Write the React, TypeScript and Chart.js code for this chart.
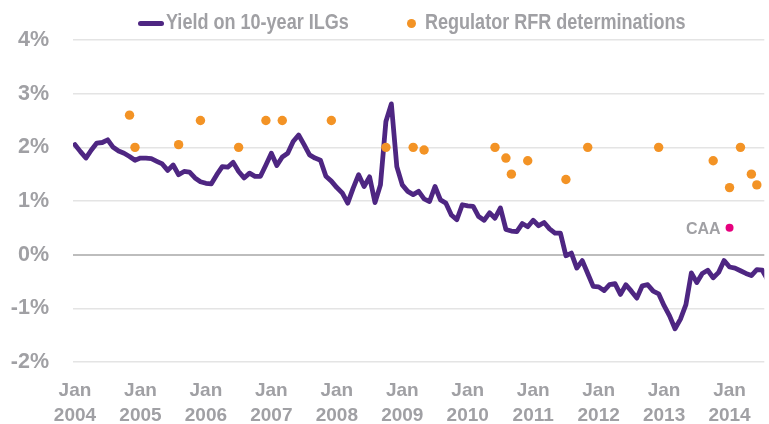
import React, { useEffect, useRef } from "react";
import { Chart, registerables } from "chart.js";

Chart.register(...registerables);

// Monthly yield on 10-year index-linked gilts, % (Jan 2004 onwards)
const ilgYield: number[] = [
  2.05, 1.92, 1.8, 1.95, 2.08, 2.09, 2.14, 2.0, 1.93, 1.89, 1.83, 1.76,
  1.8, 1.8, 1.79, 1.74, 1.69, 1.57, 1.67, 1.49, 1.55, 1.54, 1.43, 1.36,
  1.33, 1.32, 1.49, 1.64, 1.63, 1.72, 1.55, 1.43, 1.52, 1.46, 1.46, 1.67,
  1.89, 1.66, 1.82, 1.89, 2.11, 2.23, 2.05, 1.86, 1.8, 1.76, 1.46, 1.37,
  1.25, 1.15, 0.96, 1.24, 1.49, 1.27, 1.45, 0.97, 1.3, 2.48, 2.81, 1.64,
  1.3, 1.18, 1.12, 1.18, 1.04, 0.99, 1.27, 1.02, 0.96, 0.74, 0.65, 0.93,
  0.91, 0.9, 0.71, 0.64, 0.78, 0.68, 0.87, 0.47, 0.44, 0.43, 0.58, 0.52,
  0.64, 0.54, 0.6, 0.48, 0.4, 0.4, -0.02, 0.03, -0.25, -0.11, -0.35, -0.59,
  -0.6, -0.67, -0.56, -0.54, -0.74, -0.56, -0.68, -0.81, -0.58, -0.56, -0.68, -0.73,
  -0.95, -1.14, -1.38, -1.2, -0.93, -0.34, -0.52, -0.35, -0.29, -0.43, -0.33, -0.11,
  -0.23, -0.25, -0.3, -0.35, -0.39, -0.28, -0.29, -0.47,
];

// Regulator risk-free-rate determinations: months since Jan 2004, value %
const rfrMonth: number[] = [10, 11, 19, 23, 30, 35, 38, 47, 57, 62, 64, 77, 79, 80, 83, 90, 94, 107, 117, 120, 122, 124, 125];
const rfrValue: number[] = [2.6, 2.0, 2.05, 2.5, 2.0, 2.5, 2.5, 2.5, 2.0, 2.0, 1.95, 2.0, 1.8, 1.5, 1.75, 1.4, 2.0, 2.0, 1.75, 1.25, 2.0, 1.5, 1.3];

// CAA determination
const caaMonth: number[] = [120];
const caaValue: number[] = [0.5];
const caaLabel = "CAA";

const startYear = 2004;
const tickYears: number[] = [2004, 2005, 2006, 2007, 2008, 2009, 2010, 2011, 2012, 2013, 2014];
const yTicks: number[] = [-2, -1, 0, 1, 2, 3, 4];

const seriesNames = ["Yield on 10-year ILGs", "Regulator RFR determinations"];

const PURPLE = "#4e2682";
const ORANGE = "#f39325";
const PINK = "#e6007e";
const GREY_TEXT = "#a0a0a4";
const SANS = "'Liberation Sans', Arial, sans-serif";

const caaLabelPlugin = {
  id: "caaLabel",
  afterDatasetsDraw(chart: any) {
    const meta = chart.getDatasetMeta(2);
    if (!meta || !meta.data.length) return;
    const pt = meta.data[0];
    const ctx = chart.ctx;
    ctx.save();
    ctx.font = `bold 16px ${SANS}`;
    ctx.fillStyle = GREY_TEXT;
    ctx.textAlign = "right";
    ctx.textBaseline = "middle";
    ctx.fillText(caaLabel, pt.x - 9, pt.y + 1.5);
    ctx.restore();
  },
};

export default function App() {
  const canvasRef = useRef<HTMLCanvasElement | null>(null);

  useEffect(() => {
    if (!canvasRef.current) return;
    const lineData = ilgYield.map((v, i) => ({ x: i, y: v }));
    const rfrData = rfrMonth.map((m, i) => ({ x: m, y: rfrValue[i] }));
    const caaData = caaMonth.map((m, i) => ({ x: m, y: caaValue[i] }));

    const chart = new Chart(canvasRef.current, {
      type: "scatter",
      data: {
        datasets: [
          {
            type: "line",
            label: seriesNames[0],
            data: lineData,
            borderColor: PURPLE,
            backgroundColor: PURPLE,
            borderWidth: 4.8,
            pointRadius: 0,
            tension: 0,
            borderJoinStyle: "round",
            borderCapStyle: "round",
            order: 3,
          } as any,
          {
            label: seriesNames[1],
            data: rfrData,
            backgroundColor: ORANGE,
            borderWidth: 0,
            pointRadius: 4.7,
            order: 1,
          },
          {
            label: caaLabel,
            data: caaData,
            backgroundColor: PINK,
            borderWidth: 0,
            pointRadius: 4,
            order: 1,
          },
        ],
      },
      options: {
        responsive: false,
        animation: false,
        devicePixelRatio: 1,
        layout: { padding: { top: 40, left: 0, right: 0, bottom: 0 } },
        plugins: {
          legend: { display: false },
          tooltip: { enabled: false },
        },
        scales: {
          x: {
            type: "linear",
            min: -0.364,
            max: 126.37,
            grid: { display: false },
            border: { display: false },
            afterBuildTicks: (axis: any) => {
              axis.ticks = tickYears.map((y) => ({ value: (y - startYear) * 12 }));
            },
            afterFit: (scale: any) => {
              scale.height = 62;
            },
            ticks: {
              autoSkip: false,
              maxRotation: 0,
              padding: 8,
              color: GREY_TEXT,
              font: { family: SANS, size: 19, weight: "bold", lineHeight: "25px" },
              callback: (value: any) => ["Jan", String(startYear + Math.round(Number(value) / 12))],
            },
          },
          y: {
            type: "linear",
            min: -2,
            max: 4,
            afterBuildTicks: (axis: any) => {
              axis.ticks = yTicks.map((v) => ({ value: v }));
            },
            afterFit: (scale: any) => {
              scale.width = 73;
            },
            border: { display: false },
            grid: {
              drawTicks: false,
              color: (ctx: any) => (ctx.tick && ctx.tick.value === 0 ? "#bdbdbd" : "#e4e4e4"),
              lineWidth: (ctx: any) => (ctx.tick && ctx.tick.value === 0 ? 2 : 1.5),
            },
            ticks: {
              padding: 24,
              color: GREY_TEXT,
              font: { family: SANS, size: 21.5, weight: "bold" },
              callback: (value: any) => `${value}%`,
            },
          },
        },
      },
      plugins: [caaLabelPlugin],
    } as any);

    return () => chart.destroy();
  }, []);

  const textStyle: React.CSSProperties = {
    position: "absolute",
    top: 11,
    fontFamily: SANS,
    fontWeight: "bold",
    fontSize: 22,
    lineHeight: "22px",
    color: GREY_TEXT,
    whiteSpace: "nowrap",
    transform: "scaleX(0.82)",
    transformOrigin: "0 0",
  };

  return (
    <div style={{ position: "fixed", left: 0, top: 0, width: 769, height: 424, background: "#fff", overflow: "hidden" }}>
      <canvas ref={canvasRef} width={769} height={424} style={{ position: "absolute", left: 0, top: 0 }} />
      <div style={{ position: "absolute", left: 138, top: 21, width: 26, height: 5, borderRadius: 3, background: PURPLE }} />
      <div style={{ ...textStyle, left: 166 }}>{seriesNames[0]}</div>
      <div style={{ position: "absolute", left: 407, top: 19, width: 9, height: 9, borderRadius: "50%", background: ORANGE }} />
      <div style={{ ...textStyle, left: 425 }}>{seriesNames[1]}</div>
    </div>
  );
}
